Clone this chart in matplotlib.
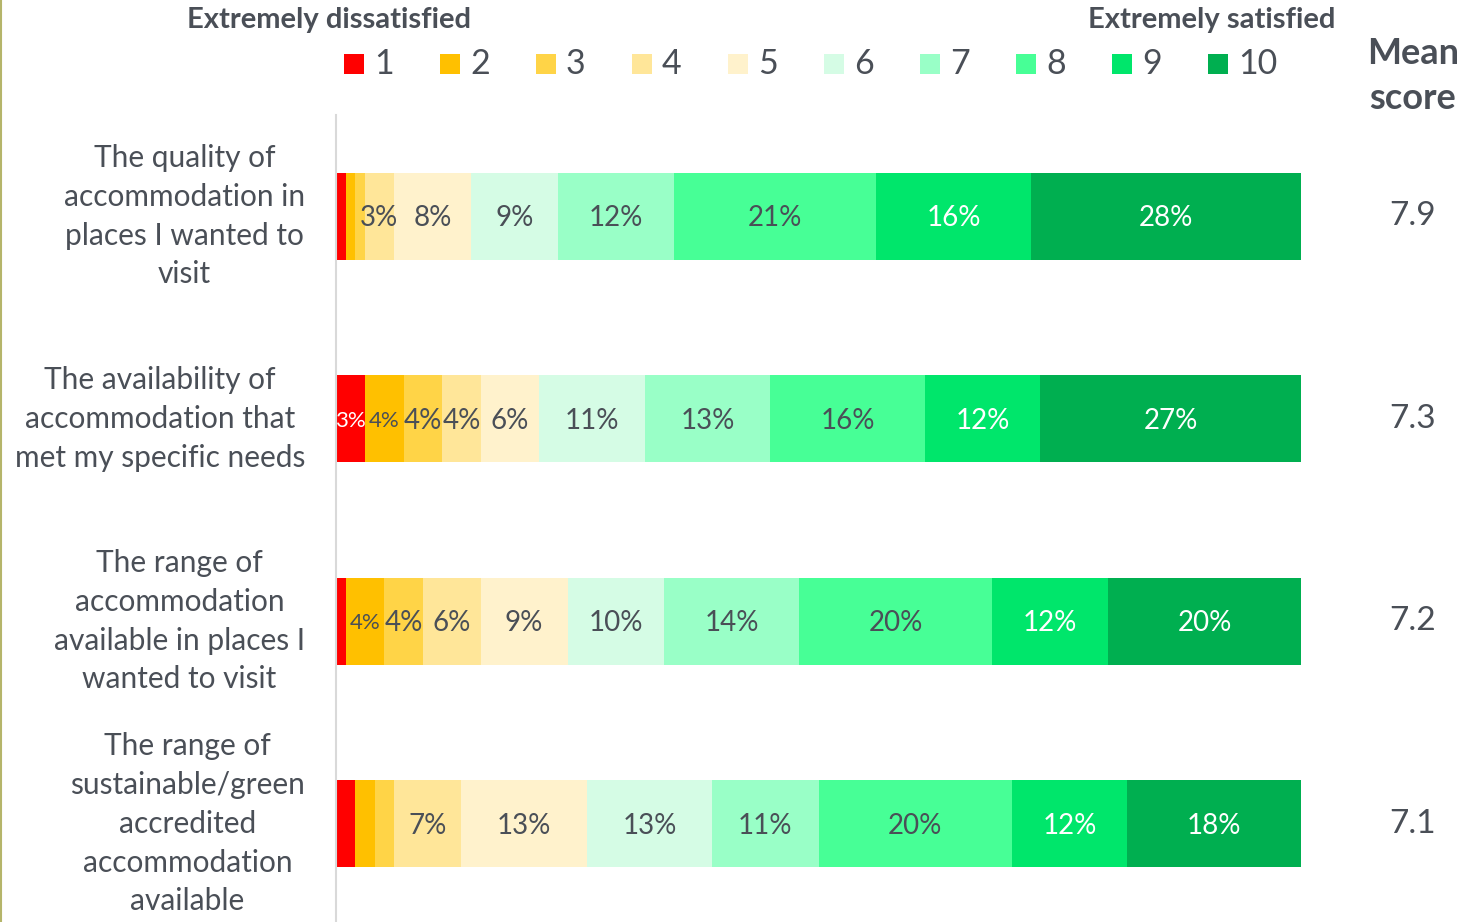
import matplotlib.pyplot as plt
import numpy as np
from matplotlib.patches import Rectangle
from matplotlib.lines import Line2D

plt.rcParams['font.family'] = ['Lato', 'DejaVu Sans']

categories = [
    "The quality of\naccommodation in\nplaces I wanted to\nvisit",
    "The availability of\naccommodation that\nmet my specific needs",
    "The range of\naccommodation\navailable in places I\nwanted to visit",
    "The range of\nsustainable/green\naccredited\naccommodation\navailable",
]
levels = ["1", "2", "3", "4", "5", "6", "7", "8", "9", "10"]
shares = np.array([
    [1, 1, 1, 3, 8, 9, 12, 21, 16, 28],
    [3, 4, 4, 4, 6, 11, 13, 16, 12, 27],
    [1, 4, 4, 6, 9, 10, 14, 20, 12, 20],
    [2, 2, 2, 7, 13, 13, 11, 20, 12, 18],
])
mean_scores = [7.9, 7.3, 7.2, 7.1]

colors = ["#FF0000", "#FFC000", "#FFD447", "#FFE699", "#FFF2CC",
          "#D5FCE5", "#99FFC7", "#47FF96", "#00E66B", "#00AF50"]
white_text = {0, 8, 9}
small_labels = {(1, 0), (1, 1), (2, 1)}
TXT = "#4A4F57"

W, H = 1481, 922
fig = plt.figure(figsize=(W / 100, H / 100), dpi=100)
ax = fig.add_axes([336 / W, -3 / H, (1301 - 336) / W, (925 - 115) / H])

y = np.arange(len(categories))
left = np.zeros(len(categories))
for j, lvl in enumerate(levels):
    vals = shares[:, j]
    ax.barh(y, vals, left=left, height=0.43, color=colors[j], linewidth=0)
    for i, v in enumerate(vals):
        if v >= 3:
            small = (i, j) in small_labels
            ax.annotate(f"{v}%", xy=(left[i] + v / 2, y[i]),
                        xytext=(0, -1.5), textcoords="offset points",
                        ha="center", va="center",
                        fontsize=16 if small else 20,
                        color="white" if j in white_text else TXT)
    left += vals

ax.set_xlim(0, 100)
ax.set_ylim(len(categories) - 0.5, -0.5)
ax.set_xticks([])
ax.set_yticks([])
for s in ["top", "right", "bottom"]:
    ax.spines[s].set_visible(False)
ax.spines["left"].set_color("#D9D9D9")
ax.spines["left"].set_linewidth(1.5)

# category labels to the left of the bars
for i, cat in enumerate(categories):
    ax.annotate(cat, xy=(0, y[i]), xycoords=("axes fraction", "data"),
                xytext=(-(336 - 305) * 0.72, 0), textcoords="offset points",
                ha="right", va="center", multialignment="center",
                fontsize=21.5, color=TXT, linespacing=1.47)

# mean scores on the right
for i, m in enumerate(mean_scores):
    ax.annotate(f"{m}", xy=(1, y[i]), xycoords=("axes fraction", "data"),
                xytext=((1413 - 1301) * 0.72, 0), textcoords="offset points",
                ha="center", va="center", fontsize=24, color=TXT)

fig.text(1413 / W, 1 - 76 / H, "Mean\nscore", ha="center", va="center",
         fontsize=26, fontweight="bold", color=TXT, linespacing=1.42)
fig.text(329 / W, 1 - 20 / H, "Extremely dissatisfied", ha="center", va="center",
         fontsize=21, fontweight="bold", color=TXT)
fig.text(1212 / W, 1 - 20 / H, "Extremely satisfied", ha="center", va="center",
         fontsize=21, fontweight="bold", color=TXT)

# legend row of swatches
for j, lvl in enumerate(levels):
    x0 = 344 + 96 * j
    fig.add_artist(Rectangle((x0 / W, 1 - 74 / H), 20 / W, 20 / H,
                             transform=fig.transFigure, color=colors[j], lw=0))
    fig.text((x0 + 30) / W, 1 - 64 / H, lvl, ha="left", va="center",
             fontsize=24.5, color=TXT)

# thin frame line on the left edge
fig.add_artist(Line2D([1 / W, 1 / W], [0, 1], transform=fig.transFigure,
                      color="#B5B56A", lw=1.5))

fig.savefig("out.png", dpi=100, facecolor="white")
